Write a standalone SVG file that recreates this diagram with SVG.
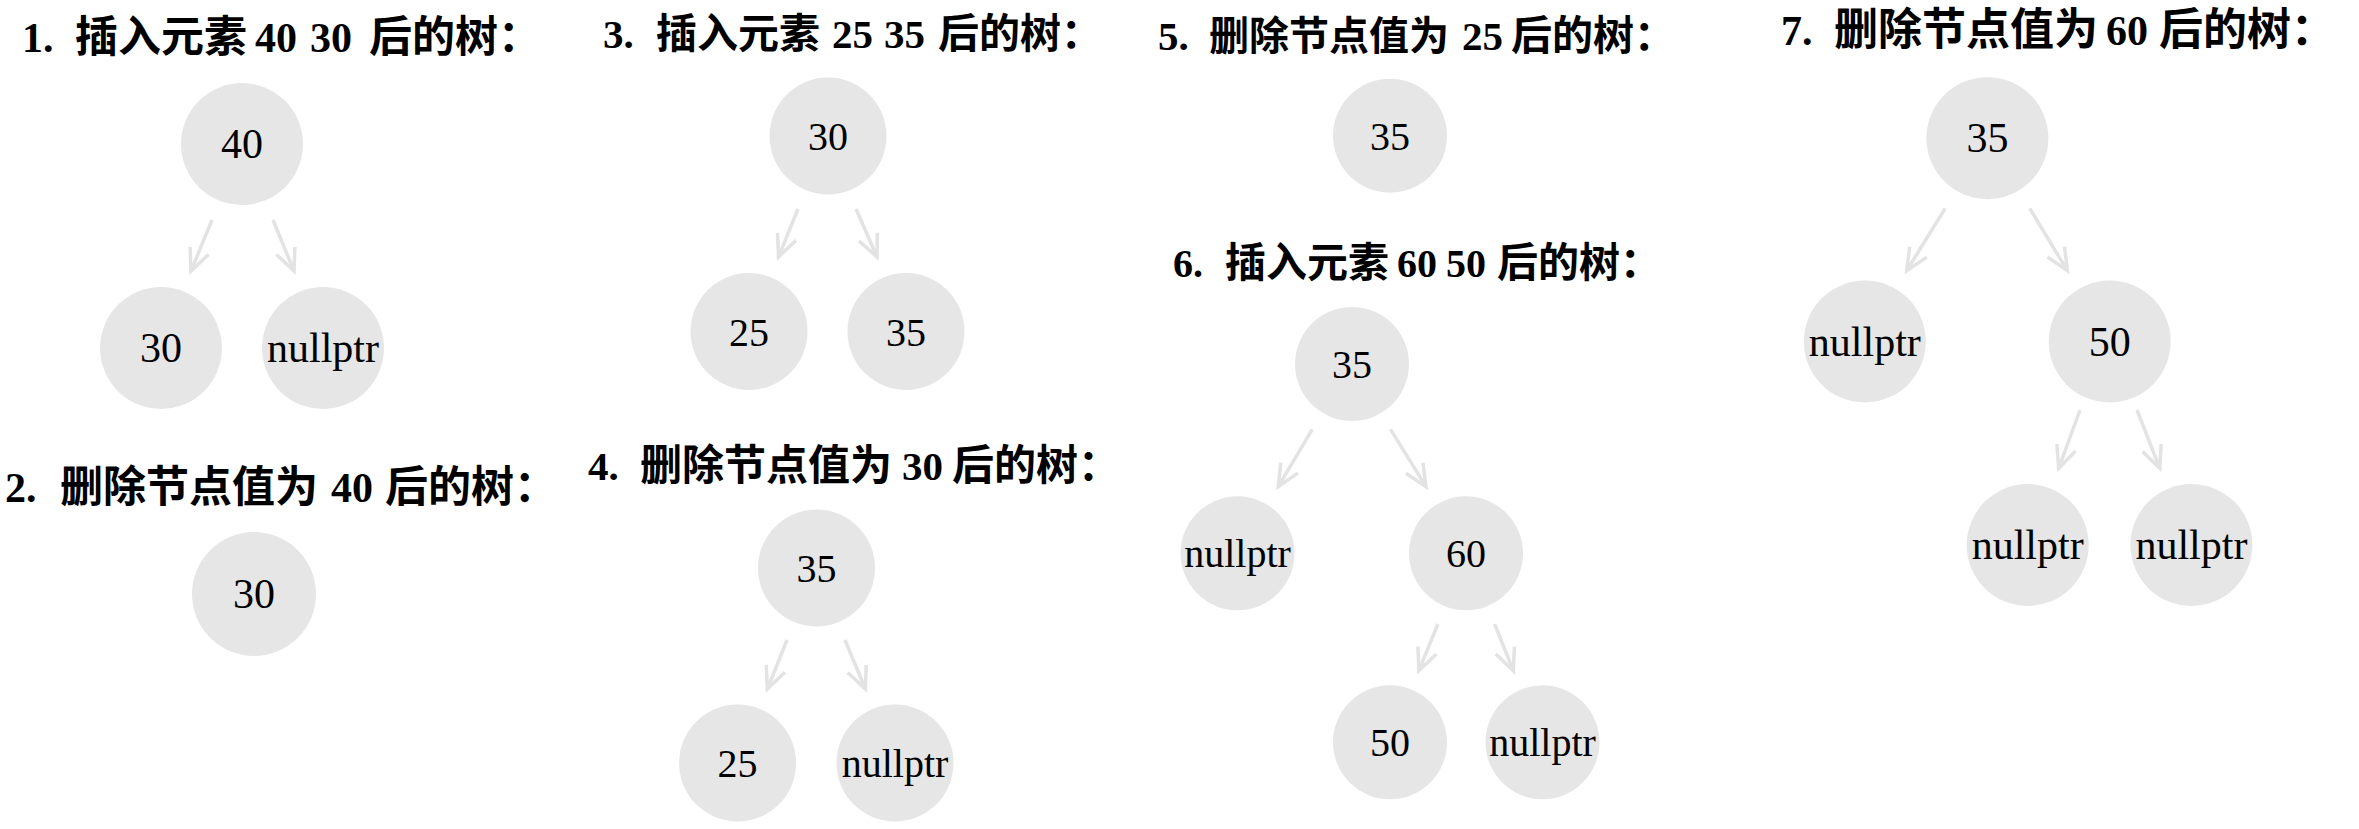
<svg xmlns="http://www.w3.org/2000/svg" width="2359" height="829" viewBox="0 0 2359 829">
<defs>
<style>
.bg{fill:#ffffff}
.title{font-family:"Liberation Serif","Noto Sans CJK SC",serif;font-weight:bold;fill:#000}
.node circle{fill:#e6e6e6}
.node text{font-family:"Liberation Serif","Times New Roman",serif;fill:#000;text-anchor:middle}
.s42 text{font-size:42px}
.s40 text{font-size:40px}
.edge{stroke:#e3e3e3;stroke-width:3.5;fill:none;marker-end:url(#arr)}
</style>
<marker id="arr" markerUnits="userSpaceOnUse" markerWidth="40" markerHeight="40" refX="0" refY="0" viewBox="-30 -20 40 40" orient="auto" overflow="visible">
<path d="M-22,-10 L0,0 L-22,10" fill="none" stroke="#e3e3e3" stroke-width="3.5"/>
</marker>
</defs>
<rect class="bg" x="0" y="0" width="2359" height="829"/>

<g id="titles">
<text id="t1" class="title" font-size="42" y="52"><tspan x="22">1.</tspan><tspan x="75" font-size="43">插入元素</tspan><tspan x="255">40</tspan><tspan x="310">30</tspan><tspan x="369" font-size="43">后的树：</tspan></text>
<text id="t2" class="title" font-size="42" y="502"><tspan x="5">2.</tspan><tspan x="60" font-size="43">删除节点值为</tspan><tspan x="331">40</tspan><tspan x="385" font-size="43">后的树：</tspan></text>
<text id="t3" class="title" font-size="41" y="48"><tspan x="603">3.</tspan><tspan x="656" font-size="41">插入元素</tspan><tspan x="832">25</tspan><tspan x="884">35</tspan><tspan x="938" font-size="41">后的树：</tspan></text>
<text id="t4" class="title" font-size="41" y="480"><tspan x="588">4.</tspan><tspan x="640" font-size="42">删除节点值为</tspan><tspan x="902">30</tspan><tspan x="952" font-size="42">后的树：</tspan></text>
<text id="t5" class="title" font-size="41" y="50"><tspan x="1158">5.</tspan><tspan x="1209" font-size="40">删除节点值为</tspan><tspan x="1462">25</tspan><tspan x="1511" font-size="41">后的树：</tspan></text>
<text id="t6" class="title" font-size="40" y="277"><tspan x="1173">6.</tspan><tspan x="1225" font-size="41">插入元素</tspan><tspan x="1397">60</tspan><tspan x="1446">50</tspan><tspan x="1497" font-size="41">后的树：</tspan></text>
<text id="t7" class="title" font-size="42" y="45"><tspan x="1781">7.</tspan><tspan x="1834" font-size="44">删除节点值为</tspan><tspan x="2106">60</tspan><tspan x="2159" font-size="44">后的树：</tspan></text>
</g>

<g id="connectors">
<line class="edge" x1="212" y1="220" x2="191" y2="271"/>
<line class="edge" x1="273" y1="220" x2="294" y2="271"/>
<line class="edge" x1="798" y1="209" x2="778.5" y2="257"/>
<line class="edge" x1="856" y1="209" x2="877" y2="257"/>
<line class="edge" x1="787" y1="640" x2="767.4" y2="689"/>
<line class="edge" x1="845" y1="640" x2="865.4" y2="689"/>
<line class="edge" x1="1312.3" y1="429.3" x2="1278.2" y2="486.7"/>
<line class="edge" x1="1390.5" y1="429.3" x2="1426" y2="486.7"/>
<line class="edge" x1="1437.9" y1="624" x2="1418.9" y2="670.7"/>
<line class="edge" x1="1494.6" y1="624" x2="1513.3" y2="670.7"/>
<line class="edge" x1="1945.2" y1="208.3" x2="1906.7" y2="270.7"/>
<line class="edge" x1="2029.7" y1="208.3" x2="2067.4" y2="270.7"/>
<line class="edge" x1="2080" y1="410" x2="2058.7" y2="468.3"/>
<line class="edge" x1="2137" y1="410" x2="2159.8" y2="468.3"/>
</g>

<g id="n1a" class="node s42"><circle cx="242" cy="144" r="61"/><text x="242" y="158">40</text></g>
<g id="n1b" class="node s42"><circle cx="161" cy="348" r="61"/><text x="161" y="362">30</text></g>
<g id="n1c" class="node s42"><circle cx="323" cy="348" r="61"/><text x="323" y="362">nullptr</text></g>

<g id="n2a" class="node s42"><circle cx="254" cy="594" r="62"/><text x="254" y="608">30</text></g>

<g id="n3a" class="node s40"><circle cx="828" cy="136" r="58.5"/><text x="828" y="150">30</text></g>
<g id="n3b" class="node s40"><circle cx="749" cy="331.5" r="58.5"/><text x="749" y="345.5">25</text></g>
<g id="n3c" class="node s40"><circle cx="906" cy="331.5" r="58.5"/><text x="906" y="345.5">35</text></g>

<g id="n4a" class="node s40"><circle cx="816.5" cy="568" r="58.5"/><text x="816.5" y="582">35</text></g>
<g id="n4b" class="node s40"><circle cx="737.6" cy="763" r="58.5"/><text x="737.6" y="777">25</text></g>
<g id="n4c" class="node s40"><circle cx="895" cy="763" r="58.5"/><text x="895" y="777">nullptr</text></g>

<g id="n5a" class="node s40"><circle cx="1390" cy="135.7" r="57"/><text x="1390" y="149.7">35</text></g>

<g id="n6a" class="node s40"><circle cx="1352" cy="364" r="57"/><text x="1352" y="378">35</text></g>
<g id="n6b" class="node s40"><circle cx="1237.5" cy="553.3" r="57"/><text x="1237.5" y="567.3">nullptr</text></g>
<g id="n6c" class="node s40"><circle cx="1466" cy="553.3" r="57"/><text x="1466" y="567.3">60</text></g>
<g id="n6d" class="node s40"><circle cx="1390" cy="742.3" r="57"/><text x="1390" y="756.3">50</text></g>
<g id="n6e" class="node s40"><circle cx="1542.5" cy="742.3" r="57"/><text x="1542.5" y="756.3">nullptr</text></g>

<g id="n7a" class="node s42"><circle cx="1987.4" cy="138.2" r="61"/><text x="1987.4" y="152.2">35</text></g>
<g id="n7b" class="node s42"><circle cx="1864.8" cy="341.5" r="61"/><text x="1864.8" y="355.5">nullptr</text></g>
<g id="n7c" class="node s42"><circle cx="2109.7" cy="341.5" r="61"/><text x="2109.7" y="355.5">50</text></g>
<g id="n7d" class="node s42"><circle cx="2027.7" cy="545" r="61"/><text x="2027.7" y="559">nullptr</text></g>
<g id="n7e" class="node s42"><circle cx="2191.4" cy="545" r="61"/><text x="2191.4" y="559">nullptr</text></g>
</svg>
